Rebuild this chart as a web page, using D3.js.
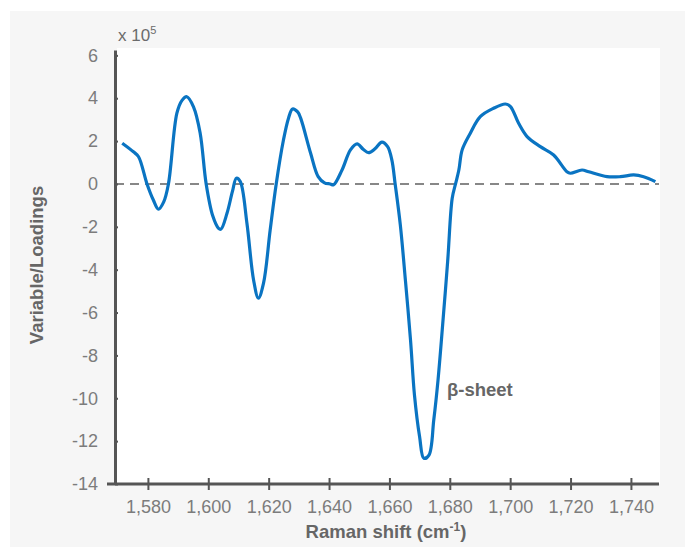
<!DOCTYPE html>
<html lang="en">

<head>
    <meta charset="UTF-8">
    <title>Raman loadings</title>
    <script src="https://d3js.org/d3.v7.min.js"></script>
</head>
<style>
    body {
        margin: 0;
        background: #ffffff;
    }
    text {
        font-family: "Liberation Sans", Arial, sans-serif;
    }
</style>

<body>
    <svg width="685" height="547"></svg>
    <script>
        // Raman shift (cm-1) and loading value (x 10^5)
        var shift = [1571.5, 1575.2, 1576.9, 1579.7, 1581.8, 1583.5, 1585.2, 1586.8, 1589.6, 1591.3, 1592.9,
            1595.1, 1597.3, 1599.3, 1601.5, 1603.4, 1604.2, 1606.2, 1608.0, 1609.3, 1610.6, 1612.8, 1615.0,
            1616.6, 1618.3, 1620.5, 1622.5, 1624.9, 1626.6, 1627.9, 1629.6, 1630.6, 1633.9, 1636.4, 1638.5,
            1640.4, 1641.5, 1644.3, 1647.1, 1649.3, 1651.3, 1653.1, 1655.3, 1657.5, 1659.4, 1660.8, 1661.9,
            1663.6, 1665.3, 1667.0, 1668.3, 1670.0, 1671.4, 1673.1, 1674.7, 1676.1, 1677.5, 1679.3, 1680.8,
            1681.9, 1683.0, 1684.1, 1686.8, 1690.1, 1694.5, 1698.4, 1700.1, 1702.8, 1705.6, 1710.0, 1714.4,
            1718.8, 1719.9, 1723.8, 1726.0, 1732.1, 1736.5, 1740.9, 1744.2, 1748.1];
        var loading = [1.9, 1.5, 1.27, 0.0, -0.75, -1.18, -0.85, 0.0, 3.3, 3.9, 4.07,
            3.6, 2.38, 0.0, -1.5, -2.07, -2.11, -1.37, -0.35, 0.27, 0.11, -1.83, -4.48,
            -5.33, -4.63, -2.15, 0.0, 2.05, 3.08, 3.5, 3.36, 3.07, 1.43, 0.34, 0.05,
            0.0, -0.04, 0.65, 1.59, 1.87, 1.62, 1.46, 1.65, 1.95, 1.74, 1.12, 0.0,
            -1.9, -4.5, -7.3, -9.85, -11.8, -12.8, -12.65, -11.0, -9.15, -6.81, -3.6, -0.67,
            0.0, 0.65, 1.59, 2.37, 3.14, 3.53, 3.73, 3.61, 2.83, 2.21, 1.74, 1.35,
            0.57, 0.5, 0.65, 0.57, 0.34, 0.34, 0.42, 0.34, 0.11];

        var xTicks = [1580, 1600, 1620, 1640, 1660, 1680, 1700, 1720, 1740];
        var yTicks = [6, 4, 2, 0, -2, -4, -6, -8, -10, -12, -14];

        var svg = d3.select("svg");

        /* Plot box */
        var plotLeft = 115, plotRight = 659, plotTop = 50, plotBottom = 484;

        var x = d3.scaleLinear().domain([1569.1, 1749.3]).range([plotLeft, plotRight]);
        var y = d3.scaleLinear().domain([-14, 6.25]).range([plotBottom, plotTop]);

        // grey panel and white plot area
        svg.append("rect")
            .attr("x", 10).attr("y", 11)
            .attr("width", 675).attr("height", 536)
            .style("fill", "#f6f6f6");
        svg.append("rect")
            .attr("x", plotLeft + 2).attr("y", 48)
            .attr("width", plotRight - plotLeft - 1).attr("height", plotBottom - 48)
            .style("fill", "#ffffff");

        // dashed zero line
        svg.append("line")
            .attr("x1", plotLeft).attr("x2", plotRight)
            .attr("y1", y(0)).attr("y2", y(0))
            .style("stroke", "#878787")
            .style("stroke-width", 2)
            .style("stroke-dasharray", "9,6");

        /* Axes */
        var xAxis = d3.axisBottom(x)
            .tickValues(xTicks)
            .tickSizeInner(6)
            .tickSizeOuter(0)
            .tickPadding(10)
            .tickFormat(d3.format(","));
        var gx = svg.append("g")
            .attr("transform", "translate(0," + plotBottom + ")")
            .call(xAxis);

        // plain hyphen for negatives, like the original
        var yAxis = d3.axisLeft(y)
            .tickValues(yTicks)
            .tickSizeInner(7)
            .tickSizeOuter(0)
            .tickPadding(10)
            .tickFormat(function (d) { return String(d); });
        var gy = svg.append("g")
            .attr("transform", "translate(" + plotLeft + ",0)")
            .call(yAxis);

        // axis look: dark grey lines, ticks that cross the axis
        [gx, gy].forEach(function (g) {
            g.select(".domain").style("stroke", "#555555").style("stroke-width", 3);
            g.selectAll(".tick line").style("stroke", "#555555").style("stroke-width", 2);
            g.selectAll(".tick text")
                .style("font-size", "18px")
                .style("fill", "#7c7c7c")
                .style("font-family", "'Liberation Sans', Arial, sans-serif");
        });
        gx.selectAll(".tick line").attr("y1", -6);
        gy.selectAll(".tick line").attr("x2", 3);
        gx.select(".domain").attr("d", "M" + (plotLeft - 8) + ",0H" + plotRight);

        /* Line */
        var line = d3.line()
            .x(function (d, i) { return x(shift[i]); })
            .y(function (d) { return y(d); })
            .curve(d3.curveCatmullRom.alpha(0.5));

        svg.append("path")
            .datum(loading)
            .attr("d", line)
            .style("fill", "none")
            .style("stroke", "#0a74c2")
            .style("stroke-width", 3.2)
            .style("stroke-linejoin", "round");

        /* Labels */
        var exp = svg.append("text")
            .attr("x", 118).attr("y", 41)
            .style("font-size", "17px")
            .style("fill", "#6b6b6b");
        exp.append("tspan").text("x 10");
        exp.append("tspan").attr("dy", -7).style("font-size", "11px").text("5");

        svg.append("text")
            .attr("transform", "translate(43,265) rotate(-90)")
            .attr("text-anchor", "middle")
            .style("font-size", "18.5px")
            .style("font-weight", "bold")
            .style("fill", "#666666")
            .text("Variable/Loadings");

        var xt = svg.append("text")
            .attr("x", 386).attr("y", 538)
            .attr("text-anchor", "middle")
            .style("font-size", "18.5px")
            .style("font-weight", "bold")
            .style("fill", "#666666");
        xt.append("tspan").text("Raman shift (cm");
        xt.append("tspan").attr("dy", -7).style("font-size", "12px").text("-1");
        xt.append("tspan").attr("dy", 7).text(")");

        svg.append("text")
            .attr("x", 447).attr("y", 396)
            .style("font-size", "18.5px")
            .style("font-weight", "bold")
            .style("fill", "#666666")
            .text("β-sheet");
    </script>
</body>

</html>
